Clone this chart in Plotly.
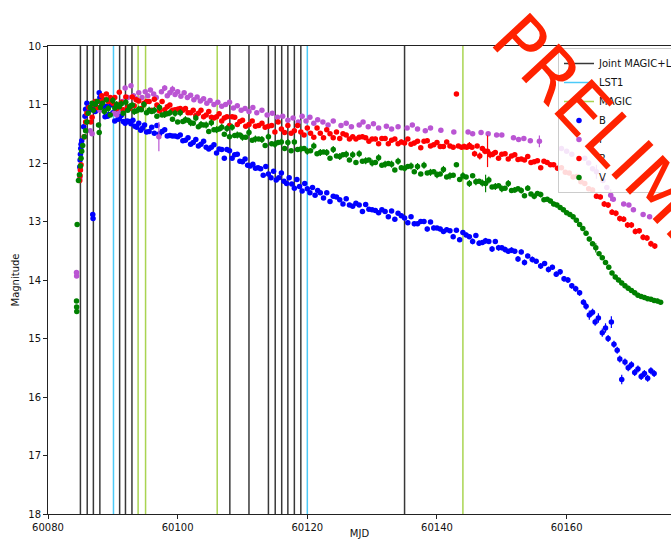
import plotly.graph_objects as go

# ---- observation nights (vertical markers) ----
JOINT_NIGHTS = [60085.0, 60086.05, 60087.0, 60088.0, 60091.05, 60091.95, 60092.95,
                60108.05, 60111.0, 60114.0, 60115.05, 60116.05, 60117.0, 60118.0,
                60119.0, 60135.0]
LST1_NIGHTS = [60090.1, 60120.0]
MAGIC_NIGHTS = [60093.9, 60095.05, 60106.1, 60144.0]

# ---- optical photometry: B band ----
B_MJD = [
    60084.9, 60084.95, 60085.0, 60085.05, 60085.1, 60085.2, 60085.5, 60085.7, 60085.8, 60086.0,
    60086.2, 60086.4, 60086.9, 60086.95, 60087.1, 60087.3, 60087.5, 60087.7, 60087.9, 60088.0,
    60088.2, 60088.4, 60088.6, 60088.8, 60089.0, 60089.2, 60089.4, 60089.7, 60090.0, 60090.3,
    60090.5, 60090.8, 60091.0, 60091.3, 60091.6, 60091.9, 60092.2, 60092.5, 60092.8, 60093.1,
    60093.4, 60093.7, 60094.0, 60094.3, 60094.6, 60094.9, 60095.2, 60095.6, 60096.0, 60096.4,
    60096.8, 60097.2, 60097.6, 60098.0, 60098.4, 60098.8, 60099.2, 60099.6, 60100.0, 60100.4,
    60100.8, 60101.2, 60101.6, 60102.0, 60102.4, 60102.8, 60103.2, 60103.6, 60104.0, 60104.4,
    60104.8, 60105.2, 60105.6, 60106.0, 60106.4, 60106.8, 60107.2, 60107.6, 60108.0, 60108.4,
    60108.8, 60109.2, 60109.6, 60110.0, 60110.4, 60110.8, 60111.2, 60111.6, 60112.0, 60112.4,
    60112.8, 60113.2, 60113.6, 60114.0, 60114.4, 60114.8, 60115.2, 60115.6, 60116.0, 60116.4,
    60116.8, 60117.2, 60117.6, 60118.0, 60118.4, 60118.8, 60119.2, 60119.6, 60120.0, 60120.4,
    60120.8, 60121.2, 60121.6, 60122.0, 60122.5, 60123.0, 60123.5, 60124.0, 60124.5, 60125.0,
    60125.5, 60126.0, 60126.5, 60127.0, 60127.5, 60128.0, 60128.5, 60129.0, 60129.5, 60130.0,
    60130.5, 60131.0, 60131.5, 60132.0, 60132.5, 60133.0, 60133.5, 60134.0, 60134.5, 60135.0,
    60135.5, 60136.0, 60136.5, 60137.0, 60137.5, 60138.0, 60138.5, 60139.0, 60139.5, 60140.0,
    60140.5, 60141.0, 60141.5, 60142.0, 60142.5, 60143.0, 60143.5, 60144.0, 60144.5, 60145.0,
    60145.5, 60146.0, 60146.5, 60147.0, 60147.5, 60148.0, 60148.5, 60149.0, 60149.5, 60150.0,
    60150.5, 60151.0, 60151.5, 60152.0, 60152.5, 60153.0, 60153.5, 60154.0, 60154.7, 60155.3,
    60156.0, 60156.6, 60157.2, 60157.8, 60158.4, 60159.0, 60159.6, 60160.2, 60160.8, 60161.4,
    60162.0, 60162.6, 60163.0, 60163.5, 60164.0, 60164.4, 60164.9, 60165.5, 60166.0, 60166.4,
    60166.9, 60167.3, 60167.8, 60168.2, 60168.5, 60169.0, 60169.5, 60170.0, 60170.5, 60171.0,
    60171.5, 60172.0, 60172.5, 60173.0, 60173.5]
B_MAG = [
    12.07, 11.95, 11.85, 11.75, 11.68, 11.62, 11.38, 11.20, 11.08, 10.98,
    11.05, 11.10, 12.88, 12.95, 11.02, 11.12, 10.95, 11.05, 10.80, 10.88,
    11.04, 11.07, 11.07, 11.21, 11.03, 11.20, 11.17, 11.01, 11.14, 11.28,
    11.08, 11.25, 11.24, 11.19, 11.29, 11.32, 11.28, 11.29, 11.33, 11.27,
    11.37, 11.39, 11.32, 11.44, 11.40, 11.35, 11.47, 11.46, 11.39, 11.49,
    11.36, 11.50, 11.46, 11.43, 11.54, 11.53, 11.54, 11.54, 11.55, 11.52,
    11.62, 11.61, 11.57, 11.68, 11.65, 11.60, 11.71, 11.68, 11.63, 11.73,
    11.76, 11.73, 11.69, 11.83, 11.76, 11.77, 11.92, 11.77, 11.79, 11.92,
    11.86, 11.85, 11.97, 11.98, 11.93, 12.04, 12.05, 12.02, 12.09, 12.08,
    12.10, 12.21, 12.06, 12.19, 12.25, 12.14, 12.29, 12.25, 12.17, 12.31,
    12.35, 12.25, 12.36, 12.43, 12.28, 12.40, 12.48, 12.35, 12.44, 12.51,
    12.42, 12.55, 12.47, 12.51, 12.60, 12.51, 12.66, 12.57, 12.58, 12.63,
    12.70, 12.61, 12.72, 12.74, 12.69, 12.72, 12.83, 12.71, 12.79, 12.80,
    12.81, 12.85, 12.80, 12.83, 12.92, 12.82, 12.96, 12.86, 12.90, 12.94,
    13.02, 12.92, 13.04, 13.04, 13.00, 13.00, 13.13, 13.01, 13.11, 13.11,
    13.13, 13.17, 13.14, 13.16, 13.26, 13.15, 13.31, 13.19, 13.23, 13.26,
    13.34, 13.24, 13.37, 13.36, 13.33, 13.34, 13.47, 13.34, 13.45, 13.45,
    13.48, 13.51, 13.49, 13.51, 13.64, 13.52, 13.70, 13.59, 13.65, 13.68,
    13.76, 13.72, 13.82, 13.78, 13.90, 13.86, 13.98, 14.00, 14.10, 14.15,
    14.22, 14.38, 14.45, 14.60, 14.55, 14.72, 14.65, 14.90, 14.82, 15.00,
    14.72, 15.10, 15.20, 15.35, 15.70, 15.40, 15.50, 15.45, 15.58, 15.52,
    15.65, 15.60, 15.68, 15.55, 15.60]
B_ERR = [
    0.03, 0.03, 0.03, 0.03, 0.03, 0.03, 0.03, 0.03, 0.02, 0.02,
    0.02, 0.02, 0.04, 0.04, 0.02, 0.02, 0.02, 0.02, 0.03, 0.02,
    0.02, 0.02, 0.02, 0.02, 0.02, 0.02, 0.02, 0.02, 0.02, 0.02,
    0.02, 0.02, 0.02, 0.02, 0.02, 0.02, 0.02, 0.02, 0.02, 0.02,
    0.02, 0.02, 0.02, 0.02, 0.02, 0.02, 0.02, 0.02, 0.02, 0.02,
    0.02, 0.02, 0.02, 0.02, 0.02, 0.02, 0.02, 0.02, 0.02, 0.02,
    0.02, 0.02, 0.02, 0.02, 0.02, 0.02, 0.02, 0.02, 0.02, 0.02,
    0.02, 0.02, 0.02, 0.02, 0.02, 0.02, 0.02, 0.02, 0.02, 0.02,
    0.02, 0.02, 0.02, 0.02, 0.02, 0.02, 0.02, 0.02, 0.02, 0.02,
    0.02, 0.02, 0.02, 0.02, 0.02, 0.02, 0.02, 0.02, 0.02, 0.02,
    0.02, 0.02, 0.02, 0.02, 0.02, 0.02, 0.02, 0.02, 0.02, 0.02,
    0.02, 0.02, 0.02, 0.02, 0.02, 0.02, 0.02, 0.02, 0.02, 0.02,
    0.02, 0.02, 0.02, 0.02, 0.02, 0.02, 0.02, 0.03, 0.03, 0.03,
    0.03, 0.03, 0.03, 0.03, 0.03, 0.03, 0.03, 0.03, 0.03, 0.03,
    0.04, 0.03, 0.04, 0.03, 0.04, 0.03, 0.04, 0.03, 0.04, 0.03,
    0.04, 0.03, 0.04, 0.03, 0.04, 0.03, 0.04, 0.04, 0.04, 0.04,
    0.05, 0.04, 0.05, 0.04, 0.05, 0.04, 0.05, 0.04, 0.05, 0.04,
    0.05, 0.04, 0.05, 0.04, 0.05, 0.04, 0.05, 0.04, 0.05, 0.04,
    0.05, 0.04, 0.05, 0.04, 0.05, 0.05, 0.05, 0.05, 0.05, 0.05,
    0.05, 0.05, 0.06, 0.08, 0.06, 0.06, 0.08, 0.07, 0.08, 0.06,
    0.10, 0.06, 0.06, 0.06, 0.08, 0.06, 0.06, 0.06, 0.06, 0.06,
    0.06, 0.06, 0.06, 0.06, 0.06]

# ---- I band ----
I_MJD = [
    60084.4, 60084.42,
    60084.9, 60085.0, 60085.6, 60086.5, 60086.8, 60088.0, 60090.2, 60090.6, 60091.0, 60091.5,
    60091.9, 60092.3, 60092.8, 60093.2, 60093.6, 60094.0, 60094.5, 60095.0, 60095.4, 60095.8,
    60096.3, 60096.7, 60097.1, 60097.5, 60098.0, 60098.4, 60098.8, 60099.2, 60099.6, 60100.0,
    60100.5, 60101.0, 60101.5, 60102.0, 60102.5, 60103.0, 60103.5, 60104.0, 60104.5, 60105.0,
    60105.6, 60106.2, 60106.8, 60107.4, 60108.0, 60108.6, 60109.2, 60109.8, 60110.4, 60111.0,
    60111.6, 60112.2, 60113.0, 60113.8, 60114.6, 60115.4, 60116.2, 60117.0, 60117.8, 60118.6,
    60119.2, 60119.8, 60120.4, 60121.0, 60121.6, 60122.4, 60123.2, 60124.0, 60125.2, 60126.0,
    60126.8, 60128.0, 60128.6, 60129.4, 60130.2, 60131.0, 60132.2, 60133.0, 60134.0, 60135.4,
    60136.2, 60137.0, 60138.2, 60139.0, 60140.6, 60142.6, 60144.8, 60145.5, 60146.8, 60147.9,
    60149.2, 60150.0, 60151.8, 60152.6, 60153.4, 60154.4, 60155.8, 60159.2, 60160.0, 60160.8,
    60162.8, 60163.4, 60164.0, 60164.6, 60165.6, 60166.2, 60166.8, 60167.2, 60168.8, 60169.6,
    60170.3, 60171.8, 60172.8]
I_MAG = [
    13.87, 13.93,
    12.25, 12.12, 11.55, 11.45, 11.50, 11.10, 11.15, 11.18, 11.12, 10.95,
    10.72, 10.88, 10.68, 10.85, 10.90, 10.80, 10.88, 10.78, 10.85, 10.75,
    10.82, 10.88, 11.55, 10.78, 10.72, 10.85, 10.80, 10.74, 10.83, 10.78,
    10.86, 10.80, 10.88, 10.84, 10.92, 10.87, 10.94, 10.90, 10.98, 10.93,
    11.00, 10.96, 11.03, 11.00, 10.96, 11.06, 11.02, 11.10, 11.07, 11.12,
    11.05, 11.14, 11.10, 11.18, 11.15, 11.22, 11.20, 11.27, 11.23, 11.30,
    11.20, 11.28, 11.22, 11.32, 11.26, 11.30, 11.35, 11.28, 11.36, 11.32,
    11.38, 11.35, 11.30, 11.38, 11.33, 11.40, 11.37, 11.42, 11.38, 11.40,
    11.35, 11.42, 11.45, 11.40, 11.44, 11.47, 11.47, 11.50, 11.48, 11.50,
    11.52, 11.52, 11.57, 11.60, 11.58, 11.62, 11.63, 11.75, 11.80, 11.85,
    11.92, 12.00, 12.10, 12.15, 12.30, 12.42, 12.55, 12.62, 12.70, 12.72,
    12.80, 12.88, 12.92]
I_ERR = [
    0.03, 0.03,
    0.03, 0.03, 0.03, 0.03, 0.03, 0.03, 0.03, 0.03, 0.03, 0.03,
    0.03, 0.03, 0.03, 0.03, 0.03, 0.03, 0.03, 0.03, 0.03, 0.03,
    0.03, 0.03, 0.25, 0.03, 0.05, 0.03, 0.04, 0.06, 0.03, 0.04,
    0.03, 0.03, 0.03, 0.03, 0.03, 0.03, 0.03, 0.03, 0.03, 0.03,
    0.03, 0.03, 0.03, 0.03, 0.03, 0.03, 0.03, 0.03, 0.03, 0.03,
    0.03, 0.03, 0.03, 0.03, 0.03, 0.03, 0.03, 0.03, 0.03, 0.03,
    0.03, 0.03, 0.03, 0.03, 0.03, 0.03, 0.03, 0.03, 0.03, 0.03,
    0.03, 0.03, 0.03, 0.03, 0.03, 0.03, 0.03, 0.03, 0.03, 0.03,
    0.03, 0.03, 0.03, 0.03, 0.03, 0.03, 0.03, 0.03, 0.03, 0.03,
    0.03, 0.03, 0.03, 0.03, 0.03, 0.03, 0.10, 0.03, 0.03, 0.03,
    0.03, 0.03, 0.04, 0.12, 0.04, 0.04, 0.10, 0.04, 0.03, 0.03,
    0.03, 0.03, 0.03]

# ---- R band ----
R_MJD = [
    60084.9, 60084.95, 60085.0, 60085.1, 60085.6, 60085.8, 60086.0, 60086.3, 60086.6, 60086.8,
    60087.0, 60087.3, 60087.6, 60088.0, 60088.3, 60088.6, 60089.0, 60089.3, 60089.6, 60090.0,
    60090.3, 60090.6, 60091.0, 60091.3, 60091.6, 60092.0, 60092.3, 60092.6, 60093.0, 60093.3,
    60093.6, 60094.0, 60094.4, 60094.8, 60095.2, 60095.6, 60096.0, 60096.4, 60096.8, 60097.2,
    60097.6, 60098.0, 60098.4, 60098.8, 60099.2, 60099.6, 60100.0, 60100.4, 60100.8, 60101.2,
    60101.6, 60102.0, 60102.4, 60102.8, 60103.2, 60103.6, 60104.0, 60104.4, 60104.8, 60105.2,
    60105.6, 60106.0, 60106.4, 60106.8, 60107.2, 60107.6, 60108.0, 60108.4, 60108.8, 60109.2,
    60109.6, 60110.0, 60110.5, 60111.0, 60111.5, 60112.0, 60112.5, 60113.0, 60113.5, 60114.0,
    60114.5, 60115.0, 60115.5, 60116.0, 60116.5, 60117.0, 60117.5, 60118.0, 60118.5, 60119.0,
    60119.5, 60120.0, 60120.5, 60121.0, 60121.5, 60122.0, 60122.5, 60123.0, 60123.5, 60124.0,
    60124.5, 60125.0, 60125.5, 60126.0, 60126.5, 60127.0, 60127.5, 60128.0, 60128.5, 60129.0,
    60129.5, 60130.0, 60130.5, 60131.0, 60131.5, 60132.0, 60132.5, 60133.0, 60133.5, 60134.0,
    60134.5, 60135.0, 60135.5, 60136.0, 60136.5, 60137.0, 60137.5, 60138.0, 60138.5, 60139.0,
    60139.5, 60140.0, 60140.5, 60141.0, 60141.5, 60142.0, 60142.5, 60143.0, 60143.3, 60143.8,
    60144.2, 60144.6, 60145.0, 60145.4, 60145.8, 60146.2, 60146.6, 60147.0, 60147.4, 60147.8,
    60148.2, 60148.6, 60149.0, 60149.5, 60150.0, 60150.5, 60151.0, 60151.5, 60152.0, 60152.5,
    60153.0, 60153.5, 60154.0, 60154.5, 60155.0, 60155.5, 60156.0, 60156.5, 60157.0, 60157.5,
    60158.0, 60158.6, 60159.2, 60159.8, 60160.4, 60161.0, 60161.6, 60162.2, 60162.8, 60163.4,
    60164.0, 60164.6, 60165.2, 60165.8, 60166.4, 60167.0, 60167.6, 60168.2, 60168.8, 60169.4,
    60170.0, 60170.6, 60171.2, 60171.8, 60172.4, 60173.0, 60173.6]
R_MAG = [
    12.30, 12.22, 12.12, 12.03, 11.55, 11.30, 11.15, 11.05, 11.30, 11.22,
    11.00, 10.95, 11.05, 10.95, 10.85, 10.92, 10.82, 10.95, 10.88, 10.98,
    10.88, 11.07, 10.79, 10.96, 11.09, 10.87, 11.04, 11.07, 10.87, 11.02,
    10.92, 10.94, 11.07, 10.98, 10.95, 10.95, 11.10, 10.91, 11.01, 11.11,
    10.95, 11.09, 11.04, 11.01, 11.10, 11.09, 11.08, 11.07, 11.10, 11.07,
    11.14, 11.14, 11.10, 11.19, 11.15, 11.10, 11.21, 11.18, 11.12, 11.22,
    11.23, 11.21, 11.16, 11.28, 11.23, 11.21, 11.36, 11.21, 11.22, 11.34,
    11.29, 11.27, 11.37, 11.34, 11.28, 11.37, 11.36, 11.32, 11.39, 11.37,
    11.36, 11.47, 11.30, 11.42, 11.48, 11.36, 11.49, 11.45, 11.36, 11.47,
    11.52, 11.40, 11.49, 11.56, 11.40, 11.49, 11.57, 11.43, 11.50, 11.57,
    11.47, 11.58, 11.50, 11.52, 11.59, 11.55, 11.59, 11.56, 11.55, 11.57,
    11.63, 11.59, 11.59, 11.67, 11.58, 11.58, 11.67, 11.61, 11.59, 11.67,
    11.64, 11.66, 11.59, 11.68, 11.66, 11.63, 11.74, 11.63, 11.62, 11.71,
    11.69, 11.65, 11.72, 11.72, 11.64, 11.71, 11.73, 10.82, 11.71, 11.73,
    11.72, 11.73, 11.70, 11.73, 11.84, 11.71, 11.88, 11.75, 11.80, 11.80,
    11.86, 11.85, 11.82, 11.92, 11.85, 11.84, 11.93, 11.88, 11.86, 11.94,
    11.93, 11.95, 11.89, 11.99, 11.98, 11.96, 12.08, 11.97, 11.99, 12.03,
    12.03, 12.09, 12.08, 12.16, 12.17, 12.24, 12.23, 12.32, 12.35, 12.44,
    12.46, 12.57, 12.58, 12.70, 12.72, 12.84, 12.86, 12.95, 12.96, 13.06,
    13.06, 13.17, 13.16, 13.27, 13.28, 13.38, 13.42]
R_ERR = [
    0.03, 0.03, 0.03, 0.03, 0.03, 0.03, 0.02, 0.02, 0.02, 0.02,
    0.02, 0.02, 0.02, 0.02, 0.02, 0.02, 0.02, 0.02, 0.02, 0.02,
    0.04, 0.02, 0.04, 0.02, 0.04, 0.02, 0.04, 0.02, 0.04, 0.02,
    0.04, 0.02, 0.04, 0.02, 0.04, 0.02, 0.04, 0.02, 0.04, 0.02,
    0.04, 0.02, 0.04, 0.02, 0.04, 0.02, 0.04, 0.02, 0.04, 0.02,
    0.04, 0.02, 0.04, 0.02, 0.04, 0.02, 0.04, 0.02, 0.04, 0.02,
    0.04, 0.02, 0.04, 0.02, 0.04, 0.02, 0.04, 0.02, 0.04, 0.02,
    0.03, 0.02, 0.03, 0.02, 0.03, 0.02, 0.03, 0.02, 0.03, 0.02,
    0.03, 0.02, 0.03, 0.02, 0.03, 0.02, 0.03, 0.02, 0.03, 0.02,
    0.03, 0.02, 0.03, 0.02, 0.03, 0.02, 0.03, 0.02, 0.03, 0.02,
    0.03, 0.02, 0.03, 0.02, 0.03, 0.02, 0.03, 0.02, 0.04, 0.02,
    0.03, 0.02, 0.04, 0.02, 0.03, 0.02, 0.04, 0.02, 0.03, 0.02,
    0.04, 0.02, 0.03, 0.02, 0.04, 0.02, 0.03, 0.02, 0.04, 0.02,
    0.03, 0.02, 0.04, 0.02, 0.03, 0.02, 0.03, 0.02, 0.03, 0.03,
    0.05, 0.03, 0.06, 0.03, 0.05, 0.03, 0.06, 0.03, 0.05, 0.27,
    0.06, 0.05, 0.03, 0.03, 0.03, 0.03, 0.03, 0.03, 0.03, 0.03,
    0.03, 0.03, 0.03, 0.03, 0.03, 0.03, 0.03, 0.03, 0.03, 0.03,
    0.03, 0.03, 0.03, 0.03, 0.03, 0.03, 0.03, 0.03, 0.04, 0.04,
    0.04, 0.04, 0.04, 0.05, 0.05, 0.05, 0.05, 0.05, 0.05, 0.05,
    0.05, 0.05, 0.05, 0.05, 0.05, 0.05, 0.05]

# ---- V band ----
V_MJD = [
    60084.4, 60084.42, 60084.44,
    60084.5, 60084.7, 60084.85, 60085.0, 60085.1, 60085.2, 60085.35, 60085.6, 60085.8, 60086.0,
    60086.2, 60086.5, 60086.8, 60087.0, 60087.3, 60087.6, 60087.8, 60087.9, 60088.1, 60088.4,
    60088.7, 60089.0, 60089.3, 60089.6, 60090.0, 60090.3, 60090.6, 60091.0, 60091.3, 60091.6,
    60092.0, 60092.3, 60092.6, 60093.0, 60093.3, 60093.6, 60094.0, 60094.4, 60094.8, 60095.2,
    60095.6, 60096.0, 60096.4, 60096.8, 60097.2, 60097.6, 60098.0, 60098.4, 60098.8, 60099.2,
    60099.6, 60100.0, 60100.4, 60100.8, 60101.2, 60101.6, 60102.0, 60102.4, 60102.8, 60103.2,
    60103.6, 60104.0, 60104.4, 60104.8, 60105.2, 60105.6, 60106.0, 60106.4, 60106.8, 60107.2,
    60107.6, 60108.0, 60108.4, 60108.8, 60109.2, 60109.6, 60110.0, 60110.5, 60111.0, 60111.5,
    60112.0, 60112.5, 60113.0, 60113.5, 60114.0, 60114.5, 60115.0, 60115.5, 60116.0, 60116.5,
    60117.0, 60117.5, 60118.0, 60118.5, 60119.0, 60119.5, 60120.0, 60120.5, 60121.0, 60121.5,
    60122.0, 60122.5, 60123.0, 60123.5, 60124.0, 60124.5, 60125.0, 60125.5, 60126.0, 60126.5,
    60127.0, 60127.5, 60128.0, 60128.5, 60129.0, 60129.5, 60130.0, 60130.5, 60131.0, 60131.5,
    60132.0, 60132.5, 60133.0, 60133.5, 60134.0, 60134.5, 60135.0, 60135.5, 60136.0, 60136.5,
    60137.0, 60137.5, 60138.0, 60138.5, 60139.0, 60139.5, 60140.0, 60140.5, 60141.0, 60141.5,
    60142.0, 60142.5, 60143.0, 60143.5, 60144.0, 60144.5, 60145.0, 60145.5, 60146.0, 60146.5,
    60147.0, 60147.5, 60148.0, 60148.5, 60149.0, 60149.5, 60150.0, 60150.5, 60151.0, 60151.5,
    60152.0, 60152.5, 60153.0, 60153.5, 60154.0, 60154.5, 60155.0, 60155.5, 60156.0, 60156.5,
    60157.0, 60157.5, 60158.0, 60158.5, 60159.0, 60159.5, 60160.0, 60160.5, 60161.0, 60161.5,
    60162.0, 60162.5, 60163.0, 60163.5, 60164.0, 60164.5, 60165.0, 60165.5, 60166.0, 60166.5,
    60167.0, 60167.5, 60168.0, 60168.5, 60169.0, 60169.5, 60170.0, 60170.5, 60171.0, 60171.5,
    60172.0, 60172.5, 60173.0, 60173.5, 60174.0, 60174.5]
V_MAG = [
    14.36, 14.46, 14.54,
    13.05, 12.30, 12.20, 12.05, 11.92, 11.80, 11.70, 11.55, 11.45, 11.30,
    11.15, 11.05, 10.98, 11.10, 11.00, 10.95, 11.35, 11.48, 11.05, 10.98,
    11.12, 10.92, 11.07, 11.18, 10.93, 11.06, 11.00, 11.04, 10.99, 11.15,
    10.96, 11.10, 11.04, 11.01, 11.12, 11.11, 11.08, 11.09, 11.00, 11.14,
    11.10, 11.12, 11.10, 11.20, 11.05, 11.18, 11.17, 11.16, 11.14, 11.25,
    11.15, 11.30, 11.14, 11.29, 11.26, 11.27, 11.31, 11.32, 11.23, 11.38,
    11.34, 11.35, 11.35, 11.46, 11.31, 11.43, 11.43, 11.42, 11.39, 11.51,
    11.41, 11.55, 11.39, 11.53, 11.52, 11.52, 11.56, 11.56, 11.48, 11.61,
    11.59, 11.59, 11.60, 11.70, 11.55, 11.67, 11.68, 11.65, 11.64, 11.75,
    11.65, 11.79, 11.64, 11.77, 11.76, 11.75, 11.80, 11.79, 11.71, 11.84,
    11.82, 11.81, 11.82, 11.92, 11.77, 11.88, 11.89, 11.86, 11.85, 11.95,
    11.86, 11.99, 11.84, 11.97, 11.96, 11.95, 12.00, 11.99, 11.91, 12.04,
    12.02, 12.01, 12.02, 12.12, 11.97, 12.08, 12.09, 12.06, 12.05, 12.15,
    12.06, 12.19, 12.04, 12.17, 12.16, 12.15, 12.20, 12.19, 12.11, 12.24,
    12.22, 12.21, 12.03, 12.28, 12.22, 12.24, 12.35, 12.22, 12.32, 12.31,
    12.34, 12.35, 12.29, 12.41, 12.40, 12.39, 12.44, 12.43, 12.35, 12.47,
    12.46, 12.44, 12.47, 12.56, 12.43, 12.53, 12.57, 12.52, 12.54, 12.63,
    12.62, 12.65, 12.70, 12.72, 12.76, 12.80, 12.85, 12.88, 12.92, 12.98,
    13.05, 13.12, 13.20, 13.30, 13.38, 13.45, 13.55, 13.62, 13.70, 13.78,
    13.88, 13.95, 14.00, 14.05, 14.10, 14.14, 14.18, 14.22, 14.26, 14.28,
    14.30, 14.32, 14.33, 14.35, 14.36, 14.38]
V_ERR = [
    0.03, 0.03, 0.03,
    0.03, 0.04, 0.04, 0.04, 0.04, 0.04, 0.04, 0.04, 0.04, 0.04,
    0.04, 0.04, 0.04, 0.04, 0.04, 0.04, 0.04, 0.04, 0.04, 0.04,
    0.06, 0.03, 0.06, 0.03, 0.06, 0.03, 0.06, 0.03, 0.06, 0.03,
    0.06, 0.03, 0.06, 0.03, 0.06, 0.03, 0.06, 0.03, 0.06, 0.03,
    0.06, 0.03, 0.06, 0.03, 0.06, 0.03, 0.06, 0.03, 0.06, 0.03,
    0.06, 0.03, 0.06, 0.03, 0.06, 0.03, 0.06, 0.03, 0.06, 0.03,
    0.06, 0.03, 0.06, 0.03, 0.06, 0.03, 0.06, 0.03, 0.06, 0.03,
    0.06, 0.03, 0.06, 0.03, 0.06, 0.03, 0.06, 0.03, 0.06, 0.03,
    0.06, 0.03, 0.06, 0.03, 0.06, 0.03, 0.06, 0.03, 0.06, 0.03,
    0.06, 0.03, 0.06, 0.03, 0.06, 0.03, 0.06, 0.03, 0.06, 0.03,
    0.06, 0.03, 0.06, 0.03, 0.06, 0.03, 0.06, 0.03, 0.06, 0.03,
    0.06, 0.03, 0.06, 0.03, 0.06, 0.03, 0.06, 0.03, 0.06, 0.03,
    0.06, 0.03, 0.06, 0.03, 0.06, 0.03, 0.06, 0.03, 0.06, 0.03,
    0.06, 0.03, 0.06, 0.03, 0.06, 0.03, 0.06, 0.03, 0.06, 0.03,
    0.06, 0.03, 0.03, 0.03, 0.06, 0.03, 0.06, 0.03, 0.06, 0.03,
    0.06, 0.15, 0.06, 0.03, 0.06, 0.03, 0.06, 0.03, 0.06, 0.03,
    0.05, 0.03, 0.05, 0.03, 0.05, 0.03, 0.05, 0.03, 0.05, 0.03,
    0.04, 0.04, 0.04, 0.04, 0.04, 0.04, 0.04, 0.04, 0.04, 0.04,
    0.04, 0.04, 0.04, 0.04, 0.04, 0.08, 0.04, 0.04, 0.04, 0.04,
    0.04, 0.04, 0.04, 0.04, 0.04, 0.04, 0.04, 0.04, 0.04, 0.04,
    0.04, 0.04, 0.04, 0.04, 0.04, 0.04]

Y_TOP, Y_BOTTOM = 10, 18
X_RANGE = [60080, 60176.1]
X_TICKS = [60080, 60100, 60120, 60140, 60160]

FONT = "DejaVu Sans"
W, H = 671, 539
M_L, M_T, M_B = 48, 46, 25

fig = go.Figure()


def night_lines(nights, name, color):
    xs, ys = [], []
    for n in nights:
        xs += [n, n, None]
        ys += [Y_TOP, Y_BOTTOM, None]
    fig.add_trace(go.Scatter(x=xs, y=ys, mode="lines", name=name,
                             line=dict(color=color, width=1.5),
                             hoverinfo="skip"))


night_lines(JOINT_NIGHTS, "Joint MAGIC+LST1", "rgba(0,0,0,0.78)")
night_lines(LST1_NIGHTS, "LST1", "rgba(0,180,245,0.7)")
night_lines(MAGIC_NIGHTS, "MAGIC", "rgba(154,205,50,0.85)")

bands = [
    ("B", B_MJD, B_MAG, B_ERR, "blue"),
    ("I", I_MJD, I_MAG, I_ERR, "mediumorchid"),
    ("R", R_MJD, R_MAG, R_ERR, "red"),
    ("V", V_MJD, V_MAG, V_ERR, "green"),
]
for name, mjd, mag, err, color in bands:
    fig.add_trace(go.Scatter(
        x=mjd, y=mag, mode="markers", name=name,
        marker=dict(color=color, size=5.5, line=dict(width=0)),
        error_y=dict(type="data", array=err, visible=True,
                     color=color, thickness=1.2, width=0),
    ))

axis_common = dict(
    showgrid=False, zeroline=False, showline=True, linecolor="#222",
    linewidth=1, ticks="outside", ticklen=4, tickwidth=1, tickcolor="#222",
    tickfont=dict(family=FONT, size=10, color="#111"),
)

plot_w = W - M_L
plot_h = H - M_T - M_B

fig.update_layout(
    width=W, height=H, autosize=False,
    # the legend runs off the right edge; keep the plot area fixed anyway
    margin=dict(l=M_L, r=0, t=M_T, b=M_B, autoexpand=False),
    paper_bgcolor="white", plot_bgcolor="white",
    font=dict(family=FONT, size=10, color="#111"),
    showlegend=True,
    legend=dict(x=(558 - M_L) / plot_w, y=1 - (48 - M_T) / plot_h,
                xanchor="left", yanchor="top",
                bgcolor="rgba(255,255,255,0.85)", bordercolor="#cccccc",
                borderwidth=1, font=dict(family=FONT, size=10, color="#111"),
                tracegroupgap=0),
    xaxis=dict(range=X_RANGE, tickvals=X_TICKS, ticktext=[str(t) for t in X_TICKS],
               mirror=True,
               title=dict(text="MJD", font=dict(family=FONT, size=10), standoff=2),
               **axis_common),
    yaxis=dict(range=[Y_BOTTOM, Y_TOP], dtick=1, mirror=False,
               title=dict(text="Magnitude", font=dict(family=FONT, size=10), standoff=6),
               **axis_common),
    annotations=[dict(
        text="PRELIMINARY", xref="paper", yref="paper",
        x=(663 - M_L) / plot_w, y=1 - (195 - M_T) / plot_h,
        xanchor="center", yanchor="middle",
        showarrow=False, textangle=47,
        font=dict(family=FONT, size=70, color="#ff2200"),
    )],
)

fig.write_html("out.html")
